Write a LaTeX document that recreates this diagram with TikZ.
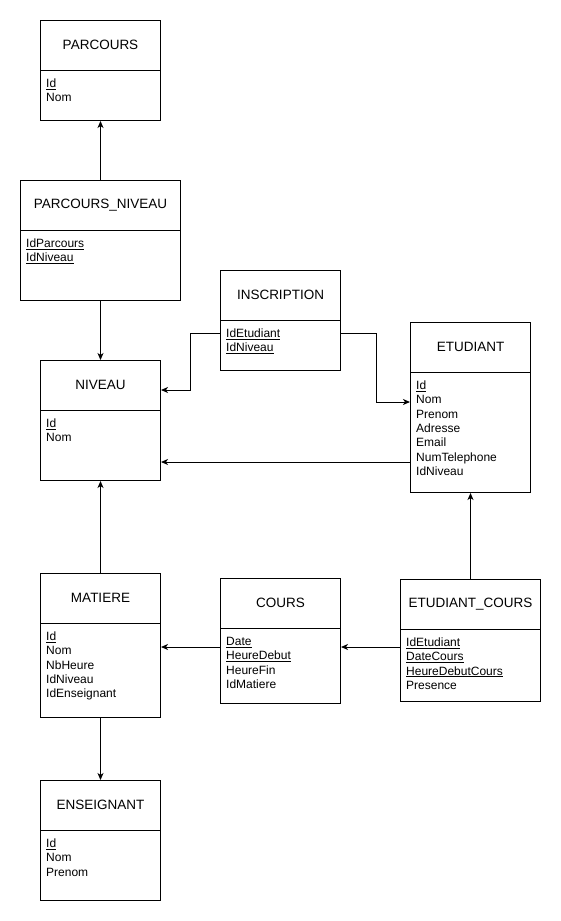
\documentclass[tikz,border=0pt]{standalone}
\usepackage{fontspec}
\setmainfont{Liberation Sans}
\usetikzlibrary{arrows.meta}
\tikzset{
  ebox/.style={draw, line width=1pt, inner sep=0pt, anchor=north west},
  etitle/.style={font=\fontsize{13.5}{16}\selectfont, inner sep=0pt},
  eattr/.style={font=\fontsize{12}{14.4}\selectfont, inner sep=0pt, align=left, anchor=north west},
  conn/.style={line width=1pt, -{Stealth[length=7pt,width=6pt,inset=2pt]}},
}
\newcommand\entity[7]{%
  \node[ebox, minimum width=#4pt, minimum height=#5pt] (#1) at (#2,#3) {};
  \draw[line width=1pt] ([yshift=-50pt]#1.north west) -- ([yshift=-50pt]#1.north east);
  \node[etitle] (#1-t) at ([yshift=-25pt]#1.north) {#6};
  \node[eattr] (#1-a) at ([xshift=6pt,yshift=-57pt]#1.north west) {\rule{0pt}{10pt}#7};
}
\begin{document}
\begin{tikzpicture}[x=1pt,y=-1pt]
\useasboundingbox (0,0) rectangle (561,921);
\entity{parcours}{40}{20}{120}{100}{PARCOURS}{\underline{Id}\\Nom}
\entity{pn}{20}{180}{160}{120}{PARCOURS\_NIVEAU}{\underline{IdParcours}\\\underline{IdNiveau}}
\entity{insc}{220}{270}{120}{100}{INSCRIPTION}{\underline{IdEtudiant}\\\underline{IdNiveau}}
\entity{etud}{410}{322}{120}{170}{ETUDIANT}{\underline{Id}\\Nom\\Prenom\\Adresse\\Email\\NumTelephone\\IdNiveau}
\entity{niveau}{40}{360}{120}{120}{NIVEAU}{\underline{Id}\\Nom}
\entity{matiere}{40}{573}{120}{144}{MATIERE}{\underline{Id}\\Nom\\NbHeure\\IdNiveau\\IdEnseignant}
\entity{cours}{220}{578}{120}{125}{COURS}{\underline{Date}\\\underline{HeureDebut}\\HeureFin\\IdMatiere}
\entity{ec}{400}{579}{140}{122}{ETUDIANT\_COURS}{\underline{IdEtudiant}\\\underline{DateCours}\\\underline{HeureDebutCours}\\Presence}
\entity{ens}{40}{780}{120}{120}{ENSEIGNANT}{\underline{Id}\\Nom\\Prenom}

\draw[conn] (pn.north) -- (parcours.south);
\draw[conn] (pn.south) -- (niveau.north);
\draw[conn] ([yshift=-63pt]insc.north west) -- ++(-30,0) |- ([yshift=-30pt]niveau.north east);
\draw[conn] ([yshift=-63pt]insc.north east) -- ++(35,0) |- ([yshift=-80pt]etud.north west);
\draw[conn] ([yshift=-140pt]etud.north west) -- ([yshift=-102pt]niveau.north east);
\draw[conn] (matiere.north) -- (niveau.south);
\draw[conn] (matiere.south) -- (ens.north);
\draw[conn] ([yshift=-69pt]cours.north west) -- ([yshift=-74pt]matiere.north east);
\draw[conn] ([yshift=-68pt]ec.north west) -- ([yshift=-69pt]cours.north east);
\draw[conn] (ec.north) -- (etud.south);
\end{tikzpicture}
\end{document}
